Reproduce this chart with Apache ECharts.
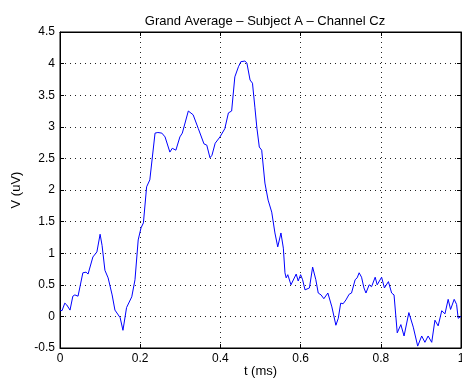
<!DOCTYPE html>
<html>
<head>
<meta charset="utf-8">
<script src="https://cdn.jsdelivr.net/npm/echarts@6/dist/echarts.min.js"></script>
<style>
  html, body { margin: 0; padding: 0; background: #fff; }
  #main { width: 462px; height: 381px; }
</style>
</head>
<body>
<div id="main"></div>
<script>
// time (s) and voltage (uV)
const times = [
  0.000, 0.005, 0.012, 0.017, 0.025, 0.032, 0.037, 0.045, 0.057, 0.065,
  0.070, 0.082, 0.092, 0.100, 0.105, 0.112, 0.120, 0.130, 0.137, 0.150,
  0.157, 0.166, 0.179, 0.187, 0.195, 0.202, 0.208, 0.216, 0.224, 0.237,
  0.244, 0.254, 0.262, 0.274, 0.280, 0.289, 0.299, 0.305, 0.309, 0.320,
  0.324, 0.332, 0.345, 0.349, 0.359, 0.366, 0.374, 0.379, 0.387, 0.399,
  0.411, 0.420, 0.428, 0.436, 0.445, 0.451, 0.455, 0.461, 0.466, 0.474,
  0.480, 0.486, 0.491, 0.497, 0.503, 0.511, 0.519, 0.528, 0.536, 0.543,
  0.551, 0.557, 0.561, 0.564, 0.568, 0.576, 0.580, 0.589, 0.594, 0.600,
  0.605, 0.611, 0.622, 0.630, 0.638, 0.644, 0.651, 0.658, 0.668, 0.678,
  0.688, 0.694, 0.700, 0.706, 0.713, 0.721, 0.727, 0.736, 0.741, 0.746,
  0.752, 0.758, 0.763, 0.771, 0.777, 0.786, 0.791, 0.802, 0.809, 0.819,
  0.827, 0.833, 0.841, 0.850, 0.858, 0.870, 0.881, 0.892, 0.902, 0.910,
  0.918, 0.927, 0.935, 0.943, 0.952, 0.960, 0.968, 0.974, 0.983, 0.989,
  0.993, 1.000
];
const volts = [
  0.10, 0.09, 0.21, 0.18, 0.10, 0.32, 0.34, 0.32, 0.69, 0.70,
  0.67, 0.94, 1.02, 1.30, 1.12, 0.73, 0.61, 0.34, 0.10, -0.02,
  -0.22, 0.14, 0.31, 0.58, 1.21, 1.40, 1.48, 2.05, 2.16, 2.90,
  2.91, 2.90, 2.84, 2.60, 2.66, 2.63, 2.84, 2.90, 2.87, 3.25,
  3.27, 3.19, 2.97, 2.95, 2.73, 2.71, 2.51, 2.55, 2.74, 2.84,
  2.97, 3.22, 3.25, 3.79, 3.95, 4.03, 4.01, 4.04, 4.01, 3.74,
  3.69, 3.31, 2.98, 2.68, 2.63, 2.11, 1.84, 1.65, 1.32, 1.10,
  1.32, 1.08, 0.69, 0.61, 0.66, 0.50, 0.50, 0.67, 0.56, 0.66,
  0.58, 0.42, 0.45, 0.78, 0.58, 0.37, 0.34, 0.28, 0.37, 0.15,
  -0.14, -0.03, 0.21, 0.20, 0.26, 0.35, 0.37, 0.58, 0.61, 0.69,
  0.62, 0.45, 0.37, 0.50, 0.47, 0.62, 0.50, 0.62, 0.45, 0.55,
  0.37, 0.34, -0.26, -0.13, -0.31, 0.06, -0.17, -0.47, -0.31, -0.41,
  -0.31, -0.41, -0.06, -0.15, 0.09, 0.04, 0.27, 0.11, 0.27, 0.19,
  -0.03, 0.00
];
const xTicks = [0, 0.2, 0.4, 0.6, 0.8, 1];
const yTicks = [-0.5, 0, 0.5, 1, 1.5, 2, 2.5, 3, 3.5, 4, 4.5];

const font = 'Liberation Sans, Helvetica, Arial, sans-serif';
const chart = echarts.init(document.getElementById('main'));

let data = [];
for (let i = 0; i < times.length; i++) {
  data.push([times[i], volts[i]]);
}

const gridLine = { show: true, lineStyle: { color: '#222', type: [1, 4], width: 1 } };

const chartOptions = {
  animation: false,
  backgroundColor: '#fff',
  title: {
    text: 'Grand Average \u2013 Subject A \u2013 Channel Cz',
    left: 260, top: 10, textAlign: 'center',
    textStyle: { fontFamily: font, fontSize: 13, fontWeight: 'normal', color: '#000' }
  },
  grid: {
    left: 60, right: 1, top: 32, bottom: 33,
    outerBoundsMode: 'none',
    containLabel: false,
    show: true, borderColor: '#000', borderWidth: 1
  },
  xAxis: [
    {
      type: 'value', min: 0, max: 1, interval: 0.2,
      name: 't (ms)', nameLocation: 'middle', nameGap: 17,
      nameMoveOverlap: false,
      nameTextStyle: { fontFamily: font, fontSize: 13, color: '#000' },
      axisLine: { onZero: false, lineStyle: { color: '#000' } },
      axisTick: { inside: true, length: 4, lineStyle: { color: '#000' } },
      axisLabel: {
        margin: 5, fontFamily: font, fontSize: 12, color: '#000',
        customValues: xTicks
      },
      splitLine: gridLine
    },
    {
      type: 'value', min: 0, max: 1, interval: 0.2, position: 'top',
      axisLine: { onZero: false, lineStyle: { color: '#000' } },
      axisTick: { inside: true, length: 4, lineStyle: { color: '#000' } },
      axisLabel: { show: false },
      splitLine: { show: false }
    }
  ],
  yAxis: [
    {
      type: 'value', min: -0.5, max: 4.5, interval: 0.5,
      name: 'V (uV)', nameLocation: 'middle', nameGap: 37,
      nameMoveOverlap: false,
      nameTextStyle: { fontFamily: font, fontSize: 13, color: '#000' },
      axisLine: { show: true, onZero: false, lineStyle: { color: '#000' } },
      axisTick: { show: true, inside: true, length: 4, lineStyle: { color: '#000' } },
      axisLabel: { margin: 5, fontFamily: font, fontSize: 12, color: '#000' },
      splitLine: gridLine
    },
    {
      type: 'value', min: -0.5, max: 4.5, interval: 0.5, position: 'right',
      axisLine: { show: true, onZero: false, lineStyle: { color: '#000' } },
      axisTick: { show: true, inside: true, length: 4, lineStyle: { color: '#000' } },
      axisLabel: { show: false },
      splitLine: { show: false }
    }
  ],
  series: [
    {
      type: 'line',
      data: data,
      showSymbol: false,
      lineStyle: { color: '#0000ff', width: 1 },
      xAxisIndex: 0, yAxisIndex: 0
    }
  ]
};
chart.setOption(chartOptions);
</script>
</body>
</html>
